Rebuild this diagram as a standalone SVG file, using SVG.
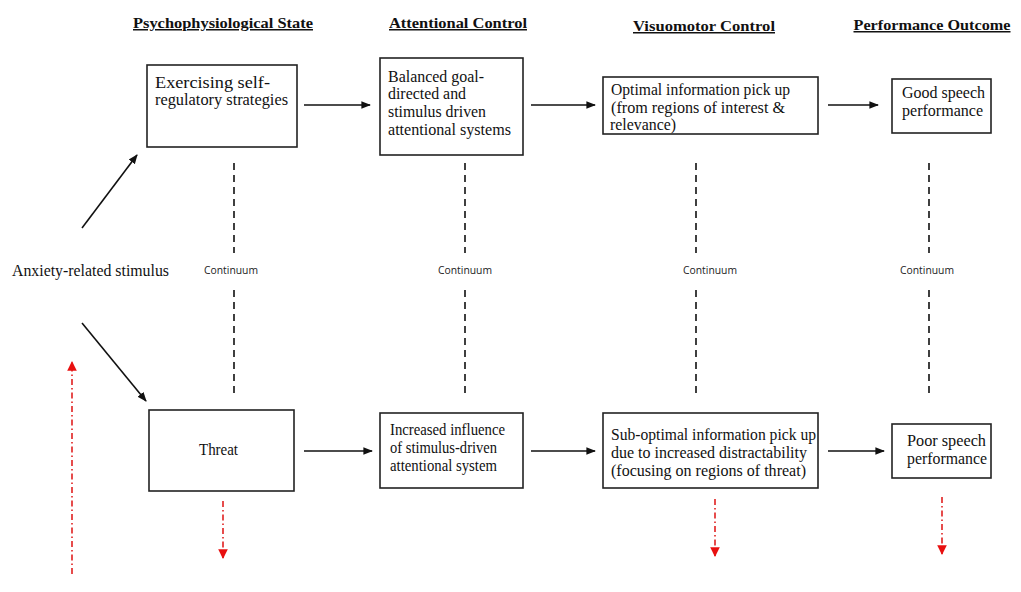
<svg xmlns="http://www.w3.org/2000/svg" width="1021" height="592" viewBox="0 0 1021 592">
  <style>
    .hdr { font-family: "Liberation Serif", serif; font-size: 15px; font-weight: bold; text-decoration: underline; fill: #111; text-anchor: middle; }
    .box { fill: #fff; stroke: #222; stroke-width: 1.6; }
    .txt { font-family: "Liberation Serif", serif; font-size: 16px; fill: #111; }
    .cont { font-family: "Open Sans", "Liberation Sans", sans-serif; font-size: 10px; fill: #222; text-anchor: middle; }
    .arrow { stroke: #111; stroke-width: 1.6; fill: none; marker-end: url(#ah); }
    .dash { stroke: #111; stroke-width: 1.6; stroke-dasharray: 7 5; fill: none; }
    .red { stroke: #e02020; stroke-width: 1.6; stroke-dasharray: 6 3 1.5 3; fill: none; }
  </style>
  <defs>
    <marker id="ah" viewBox="0 0 10 10" refX="9" refY="5" markerWidth="6" markerHeight="6" orient="auto" markerUnits="strokeWidth">
      <path d="M0,1 L10,5 L0,9 z" fill="#111"/>
    </marker>
    <marker id="rh" viewBox="0 0 10 10" refX="9" refY="5" markerWidth="6" markerHeight="6" orient="auto" markerUnits="strokeWidth">
      <path d="M0,0 L10,5 L0,10 z" fill="#e81010"/>
    </marker>
  </defs>
  <rect width="1021" height="592" fill="#fff"/>

  <!-- column headings -->
  <g id="headings">
    <text class="hdr" x="223" y="28" textLength="180" lengthAdjust="spacingAndGlyphs">Psychophysiological State</text>
    <text class="hdr" x="458" y="28" textLength="138" lengthAdjust="spacingAndGlyphs">Attentional Control</text>
    <text class="hdr" x="704" y="31" textLength="142" lengthAdjust="spacingAndGlyphs">Visuomotor Control</text>
    <text class="hdr" x="932" y="30" textLength="157" lengthAdjust="spacingAndGlyphs">Performance Outcome</text>
  </g>

  <g id="stimulus">
    <text class="txt" x="12" y="276" textLength="157" lengthAdjust="spacingAndGlyphs">Anxiety-related stimulus</text>
  </g>

  <g id="self-regulation">
    <rect class="box" x="147" y="65" width="150" height="82"/>
    <text class="txt" x="155" y="88" textLength="115" lengthAdjust="spacingAndGlyphs">Exercising self-</text>
    <text class="txt" x="155" y="105" textLength="133" lengthAdjust="spacingAndGlyphs">regulatory strategies</text>
  </g>
  <g id="balanced-attention">
    <rect class="box" x="380" y="58" width="143" height="97"/>
    <text class="txt" x="388" y="82" textLength="96" lengthAdjust="spacingAndGlyphs">Balanced goal-</text>
    <text class="txt" x="388" y="99" textLength="78" lengthAdjust="spacingAndGlyphs">directed and</text>
    <text class="txt" x="388" y="117" textLength="98" lengthAdjust="spacingAndGlyphs">stimulus driven</text>
    <text class="txt" x="388" y="135" textLength="123" lengthAdjust="spacingAndGlyphs">attentional systems</text>
  </g>
  <g id="optimal-pickup">
    <rect class="box" x="603" y="77" width="215" height="57"/>
    <text class="txt" x="611" y="95" textLength="179" lengthAdjust="spacingAndGlyphs">Optimal information pick up</text>
    <text class="txt" x="611" y="113" textLength="174" lengthAdjust="spacingAndGlyphs">(from regions of interest &amp;</text>
    <text class="txt" x="610" y="130" textLength="66" lengthAdjust="spacingAndGlyphs">relevance)</text>
  </g>
  <g id="good-performance">
    <rect class="box" x="892" y="79" width="99" height="54"/>
    <text class="txt" x="902" y="98" textLength="83" lengthAdjust="spacingAndGlyphs">Good speech</text>
    <text class="txt" x="902" y="116" textLength="81" lengthAdjust="spacingAndGlyphs">performance</text>
  </g>

  <g id="threat">
    <rect class="box" x="149" y="410" width="145" height="81"/>
    <text class="txt" x="199" y="455" textLength="39" lengthAdjust="spacingAndGlyphs">Threat</text>
  </g>
  <g id="stimulus-driven">
    <rect class="box" x="380" y="413" width="143" height="75"/>
    <text class="txt" x="390" y="435" textLength="115" lengthAdjust="spacingAndGlyphs">Increased influence</text>
    <text class="txt" x="390" y="453" textLength="107" lengthAdjust="spacingAndGlyphs">of stimulus-driven</text>
    <text class="txt" x="390" y="471" textLength="107" lengthAdjust="spacingAndGlyphs">attentional system</text>
  </g>
  <g id="suboptimal-pickup">
    <rect class="box" x="603" y="413" width="215" height="75"/>
    <text class="txt" x="611" y="440" textLength="205" lengthAdjust="spacingAndGlyphs">Sub-optimal information pick up</text>
    <text class="txt" x="611" y="458" textLength="196" lengthAdjust="spacingAndGlyphs">due to increased distractability</text>
    <text class="txt" x="611" y="476" textLength="195" lengthAdjust="spacingAndGlyphs">(focusing on regions of threat)</text>
  </g>
  <g id="poor-performance">
    <rect class="box" x="892" y="424" width="99" height="54"/>
    <text class="txt" x="907" y="446" textLength="79" lengthAdjust="spacingAndGlyphs">Poor speech</text>
    <text class="txt" x="907" y="464" textLength="80" lengthAdjust="spacingAndGlyphs">performance</text>
  </g>

  <g id="continuum-labels">
    <text class="cont" x="231" y="274" textLength="54" lengthAdjust="spacingAndGlyphs">Continuum</text>
    <text class="cont" x="465" y="274" textLength="54" lengthAdjust="spacingAndGlyphs">Continuum</text>
    <text class="cont" x="710" y="274" textLength="54" lengthAdjust="spacingAndGlyphs">Continuum</text>
    <text class="cont" x="927" y="274" textLength="54" lengthAdjust="spacingAndGlyphs">Continuum</text>
  </g>

  <g id="connectors">
    <!-- stimulus branches -->
    <line class="arrow" x1="82" y1="228" x2="137" y2="155"/>
    <line class="arrow" x1="82" y1="323" x2="146" y2="401"/>
    <!-- upper pathway -->
    <line class="arrow" x1="304" y1="105" x2="370" y2="105"/>
    <line class="arrow" x1="531" y1="105" x2="595" y2="105"/>
    <line class="arrow" x1="828" y1="105" x2="878" y2="105"/>
    <!-- lower pathway -->
    <line class="arrow" x1="304" y1="451" x2="372" y2="451"/>
    <line class="arrow" x1="531" y1="451" x2="595" y2="451"/>
    <line class="arrow" x1="828" y1="451" x2="884" y2="451"/>
    <!-- continuum dashes -->
    <path class="dash" d="M234,163 V253 M234,290 V398"/>
    <path class="dash" d="M465,163 V253 M465,290 V398"/>
    <path class="dash" d="M696,163 V253 M696,290 V398"/>
    <path class="dash" d="M929,163 V253 M929,290 V398"/>
    <!-- red dash-dot arrows -->
    <line class="red" x1="72" y1="574" x2="72" y2="362" marker-end="url(#rh)"/>
    <line class="red" x1="223" y1="501" x2="223" y2="558" marker-end="url(#rh)"/>
    <line class="red" x1="715" y1="499" x2="715" y2="556" marker-end="url(#rh)"/>
    <line class="red" x1="942" y1="497" x2="942" y2="554" marker-end="url(#rh)"/>
  </g>
</svg>
